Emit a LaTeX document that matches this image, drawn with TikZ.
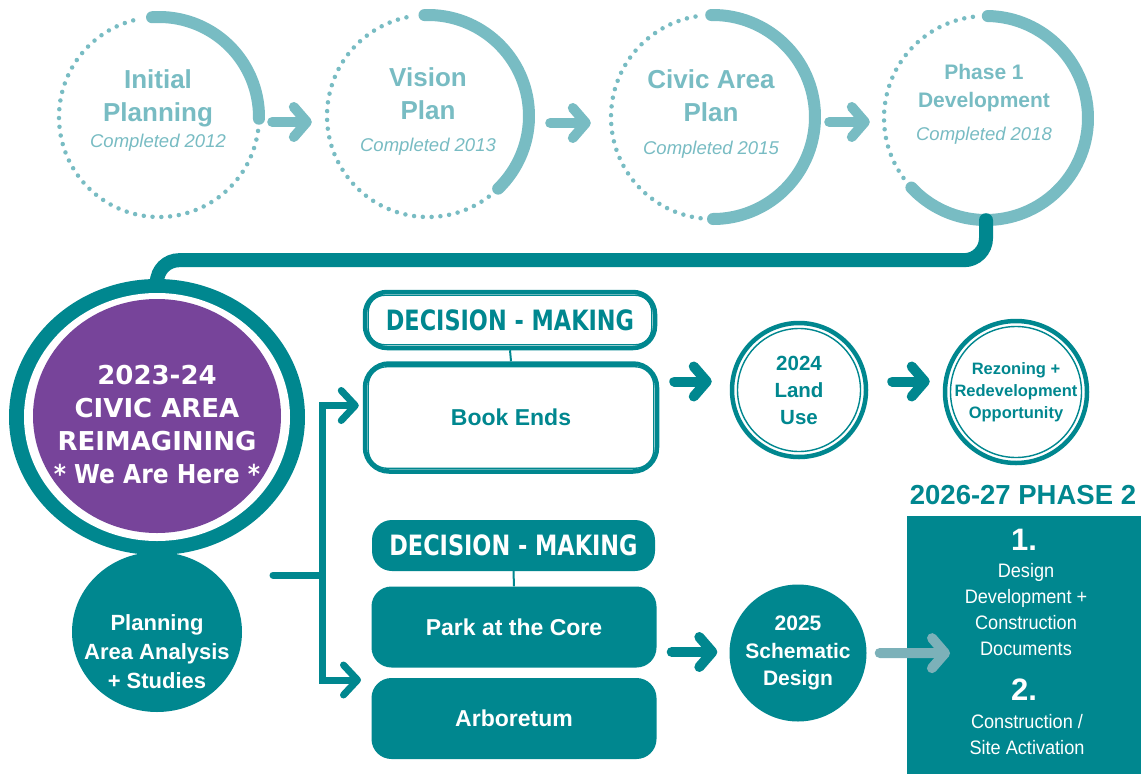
\documentclass[tikz,border=0pt]{standalone}
\usepackage{fontspec}
\usepackage{graphicx}
\setmainfont{Liberation Sans}
\newfontfamily\heavyfont{DejaVu Sans}
\newfontfamily\heavynarrow[FakeStretch=0.8]{DejaVu Sans}
\newfontfamily\narrowfont[FakeStretch=0.93]{Liberation Sans}
\usetikzlibrary{arrows.meta,shapes.geometric}
\definecolor{lteal}{RGB}{120,188,195}
\definecolor{dteal}{RGB}{0,135,143}
\definecolor{purp}{RGB}{119,68,154}
\definecolor{gteal}{RGB}{124,177,185}
\newcommand{\myfs}[2]{\fontsize{#1}{#2}\selectfont}
\begin{document}
\begin{tikzpicture}[x=1pt,y=1pt,
  topc/.style={circle, minimum size=#1, inner sep=0pt},
  thickarc/.style={draw=lteal, line width=12pt, line cap=round},
  dotarc/.style={draw=lteal, line width=4.5pt, line cap=round, dash pattern=on 0pt off 8.8pt},
  toptitle/.style={text=lteal, font=\bfseries\myfs{26}{33}, align=center, inner sep=0pt},
  compl/.style={text=lteal, font=\itshape\myfs{18.5}{22}, inner sep=0pt},
  barb/.style={line cap=round, -{Straight Barb[length=13pt,width=30pt,round]}},
  tarr/.style={barb, draw=lteal, line width=10pt},
  arr/.style={barb, draw=dteal, line width=10pt},
  garr/.style={barb, draw=gteal, line width=10pt},
  brarr/.style={draw=dteal, line width=7pt, -{Straight Barb[length=14pt,width=30pt,round]}},
  conn/.style={draw=dteal, line width=14pt, line cap=round, rounded corners=22pt},
  thinl/.style={draw=dteal, line width=2pt},
  obox/.style={draw=dteal, line width=4.5pt, fill=white, rounded corners=#1, inner sep=0pt, text=dteal},
  fbox/.style={fill=dteal, rounded corners=20pt, inner sep=0pt, text=white},
  inl/.style={draw=dteal, line width=1.4pt},
  dmfont/.style={font=\heavynarrow\bfseries\myfs{28}{30}},
  boxtxt/.style={font=\bfseries\myfs{23}{28}},
]
\useasboundingbox (0,0) rectangle (1141,-774);
\fill[white] (0,0) rectangle (1141,-774);

% ---- top row circles
\node[topc=200pt] (c1) at (159,-117) {};
\node[topc=202pt] (c2) at (428,-116) {};
\node[topc=204pt] (c3) at (713,-117) {};
\node[topc=204pt] (c4) at (986,-118) {};
\draw[thickarc] (c1.center) ++(94:100pt) arc[start angle=94,end angle=-1,radius=100pt];
\draw[dotarc] (c1.center) ++(-8:100pt) arc[start angle=-8,end angle=-258,radius=100pt];
\draw[thickarc] (c2.center) ++(92:101pt) arc[start angle=92,end angle=-46,radius=101pt];
\draw[dotarc] (c2.center) ++(-53:101pt) arc[start angle=-53,end angle=-261,radius=101pt];
\draw[thickarc] (c3.center) ++(91:102pt) arc[start angle=91,end angle=-90,radius=102pt];
\draw[dotarc] (c3.center) ++(-97:102pt) arc[start angle=-97,end angle=-262,radius=102pt];
\draw[thickarc] (c4.center) ++(89:102pt) arc[start angle=89,end angle=-137,radius=102pt];
\draw[dotarc] (c4.center) ++(-144:102pt) arc[start angle=-144,end angle=-264,radius=102pt];

\node[toptitle] (t1) at (158,-98) {Initial\\Planning};
\node[compl] (d1) at (158,-143) {Completed 2012};
\node[toptitle] (t2) at (428,-94) {Vision\\Plan};
\node[compl] (d2) at (428,-147) {Completed 2013};
\node[toptitle] (t3) at (711,-96) {Civic Area\\Plan};
\node[compl] (d3) at (711,-150) {Completed 2015};
\node[toptitle, font=\bfseries\myfs{21}{28}] (t4) at (984,-88) {Phase 1\\Development};
\node[compl] (d4) at (984,-136) {Completed 2018};

\draw[tarr] ([xshift=13pt,yshift=-5pt]c1.east) -- ([xshift=-15pt,yshift=-6pt]c2.west);
\draw[tarr] ([xshift=21pt,yshift=-7pt]c2.east) -- ([xshift=-20pt,yshift=-6pt]c3.west);
\draw[tarr] ([xshift=14pt,yshift=-5pt]c3.east) -- ([xshift=-14pt,yshift=-4pt]c4.west);

% ---- left: planning circle and big ring
\node[ellipse, fill=dteal, minimum width=170pt, minimum height=160pt, inner sep=0pt] (plan) at (157,-632) {};
\node[ellipse, fill=dteal, minimum width=296pt, minimum height=276pt, inner sep=0pt] (big) at (157,-417) {};
\fill[white] (big.center) ellipse[x radius=133pt, y radius=124pt];
\node[ellipse, fill=purp, minimum width=248pt, minimum height=234pt, inner sep=0pt] (reim) at (157,-416) {};
\node[text=white, font=\heavyfont\bfseries\myfs{26}{33}, align=center] (reimtxt) at (157,-424.5) {2023-24\\CIVIC AREA\\REIMAGINING\\\scalebox{0.9}[1]{* We Are Here *}};
\node[text=white, font=\bfseries\myfs{22}{29}, align=center] (plantxt) at (157,-652) {Planning\\Area Analysis\\+ Studies};

\draw[conn] (c4.south) -- ++(0,-40) -| (big.north);

% ---- upper branch
\node[obox=22pt, minimum width=290pt, minimum height=56pt, dmfont] (dm1) at (510,-320) {DECISION - MAKING};
\draw[inl, rounded corners=16.5pt] ([shift={(5.5,-5.5)}]dm1.north west) rectangle ([shift={(-5.5,5.5)}]dm1.south east);
\node[obox=24pt, minimum width=292pt, minimum height=108pt, boxtxt] (bk) at (511,-417.5) {Book Ends};
\draw[inl, rounded corners=18.5pt] ([shift={(5.5,-5.5)}]bk.north west) rectangle ([shift={(-5.5,5.5)}]bk.south east);
\draw[thinl] (dm1.south) -- (bk.north);

\node[circle, draw=dteal, line width=4.5pt, fill=white, minimum size=134pt, inner sep=0pt, text=dteal, font=\bfseries\myfs{20.5}{27}, align=center] (lu) at (799,-390) {2024\\Land\\Use};
\draw[inl] (lu.center) circle[radius=61.5pt];
\node[circle, draw=dteal, line width=4.5pt, fill=white, minimum size=142pt, inner sep=0pt, text=dteal, font=\bfseries\myfs{16.5}{22}, align=center] (rz) at (1016,-392) {Rezoning +\\Redevelopment\\Opportunity};
\draw[inl] (rz.center) circle[radius=65.5pt];

\draw[arr] ([xshift=15pt,yshift=36pt]bk.east) -- ([xshift=-18pt,yshift=8.5pt]lu.west);
\draw[arr] ([xshift=24pt,yshift=8.5pt]lu.east) -- ([xshift=-13pt,yshift=10.5pt]rz.west);

% ---- lower branch
\node[fbox, minimum width=283pt, minimum height=51pt, dmfont] (dm2) at (513.5,-545.5) {DECISION - MAKING};
\node[fbox, minimum width=285pt, minimum height=81pt, boxtxt] (park) at (514,-627) {Park at the Core};
\node[fbox, minimum width=285pt, minimum height=81pt, boxtxt] (arb) at (514,-718.5) {Arboretum};
\draw[thinl] (dm2.south) -- (park.north);

\node[circle, fill=dteal, minimum size=137pt, inner sep=0pt, text=white, font=\bfseries\myfs{21}{27.5}, align=center] (sch) at (798,-653) {2025\\Schematic\\Design};
\draw[arr] ([xshift=15pt,yshift=-25pt]park.east) -- ([xshift=-12pt,yshift=1pt]sch.west);

% ---- branch connector
\coordinate (stub) at (273,-575);
\coordinate (br) at (322,-575);
\coordinate (pa) at (361,-680);
\draw[dteal, line width=7pt, line cap=round] (stub) -- (br);
\draw[brarr] (br) |- ([xshift=-4pt,yshift=12pt]bk.west);
\draw[brarr] (br) |- (pa);

% ---- phase 2
\node[fill=dteal, minimum width=234pt, minimum height=258pt, inner sep=0pt, anchor=north west] (ph2) at (907,-516) {};
\node[text=dteal, font=\bfseries\myfs{27.5}{30}] (ph2t) at (1023,-495) {2026-27 PHASE 2};
\draw[garr] ([xshift=13pt]sch.east) -- ([xshift=43pt,yshift=-8pt]ph2.west);
\node[text=white, font=\bfseries\myfs{31}{32}] (n1) at (1024,-540) {1.};
\node[text=white, font=\narrowfont\myfs{19.5}{25.7}, align=center] (s1) at (1026,-609.5) {Design\\Development +\\Construction\\Documents};
\node[text=white, font=\bfseries\myfs{31}{32}] (n2) at (1024,-690) {2.};
\node[text=white, font=\narrowfont\myfs{19.5}{26}, align=center] (s2) at (1027,-735) {Construction /\\Site Activation};
\end{tikzpicture}
\end{document}
